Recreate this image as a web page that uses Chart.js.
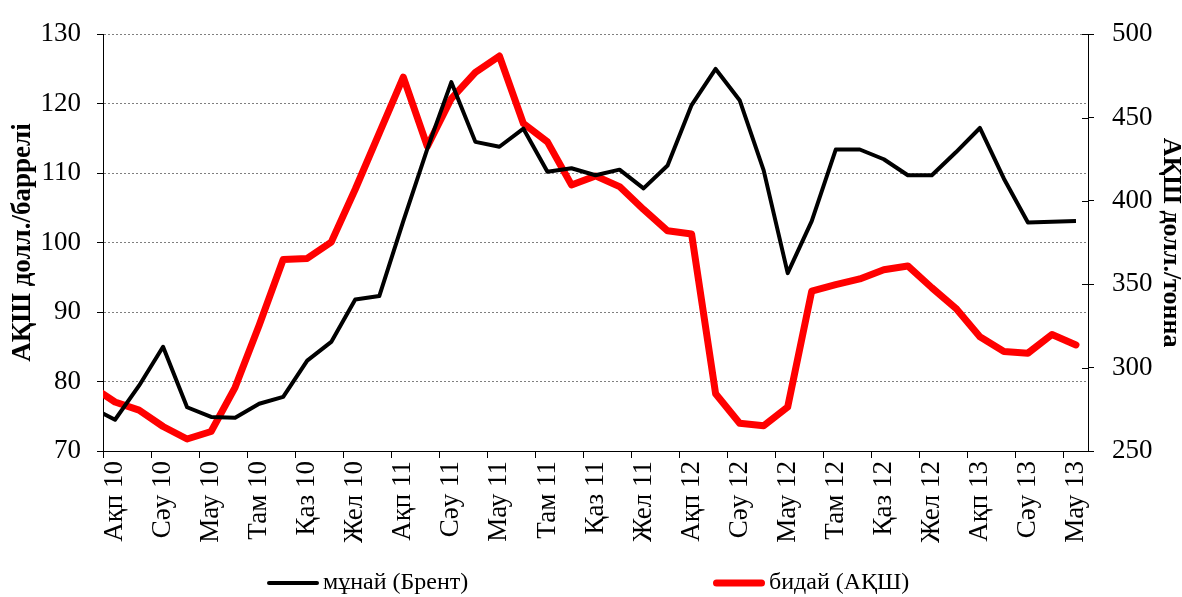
<!DOCTYPE html>
<html lang="kk">
<head>
<meta charset="UTF-8">
<title>Мұнай және бидай бағасы</title>
<script src="https://cdn.jsdelivr.net/npm/chart.js"></script>
<style>
  html, body { margin: 0; padding: 0; background: #fff; }
  #wrap { width: 1182px; height: 597px; position: relative; }
</style>
</head>
<body>
<div id="wrap"><canvas id="chart"></canvas></div>
<script>
// months Jan 2010 .. Jun 2013 (the first one sits half outside the plot)
const months = [
  'Қаң 10','Ақп 10','Нау 10','Сәу 10','Мам 10','Мау 10','Шіл 10','Там 10','Қыр 10','Қаз 10','Қар 10','Жел 10',
  'Қаң 11','Ақп 11','Нау 11','Сәу 11','Мам 11','Мау 11','Шіл 11','Там 11','Қыр 11','Қаз 11','Қар 11','Жел 11',
  'Қаң 12','Ақп 12','Нау 12','Сәу 12','Мам 12','Мау 12','Шіл 12','Там 12','Қыр 12','Қаз 12','Қар 12','Жел 12',
  'Қаң 13','Ақп 13','Нау 13','Сәу 13','Мам 13','Мау 13'
];
const seriesNames = ['мұнай (Брент)', 'бидай (АҚШ)'];

// Brent, USD per barrel (left axis)
const oil = [
  76.3, 74.5, 79.4, 85.0, 76.3, 74.9, 74.8, 76.8, 77.8, 83.0, 85.7, 91.8,
  92.3, 103.1, 113.5, 123.1, 114.5, 113.8, 116.4, 110.2, 110.7, 109.7, 110.5, 107.8,
  111.1, 119.8, 125.0, 120.5, 110.4, 95.6, 103.1, 113.4, 113.4, 112.0, 109.7, 109.7,
  113.0, 116.5, 109.2, 102.9, 103.0, 103.1
];
// US wheat, USD per tonne (right axis)
const wheat = [
  289, 279.4, 274.5, 264.7, 257.2, 261.7, 288.2, 325.4, 364.9, 365.5, 375.3, 407,
  440.7, 474.2, 432.7, 461.4, 477.1, 486.9, 446.4, 435.4, 409.6, 415, 408.6, 394.9,
  382.1, 380.2, 284.3, 266.6, 265.1, 276.4, 345.9, 349.8, 353.2, 358.7, 361, 347.9,
  335.6, 318.5, 309.7, 308.7, 319.9, 313.6
];

const leftTicks = [70, 80, 90, 100, 110, 120, 130];
const rightTicks = [250, 300, 350, 400, 450, 500];

const SERIF = "'Liberation Serif', 'Times New Roman', serif";

// small inner tick marks on the right axis
const crossTicks = {
  id: 'crossTicks',
  afterDraw(chart) {
    const s = chart.scales.y2;
    const ctx = chart.ctx;
    ctx.save();
    ctx.strokeStyle = '#000';
    ctx.lineWidth = 1;
    s.ticks.forEach(t => {
      const y = Math.round(s.getPixelForValue(t.value)) + 0.5;
      ctx.beginPath();
      ctx.moveTo(s.left - 6, y);
      ctx.lineTo(s.left, y);
      ctx.stroke();
    });
    ctx.restore();
  }
};

// legend spread out at the bottom like the original
const bottomLegend = {
  id: 'bottomLegend',
  afterDraw(chart) {
    const ctx = chart.ctx;
    const starts = [267, 713];
    const y = 583;
    ctx.save();
    ctx.font = '24px ' + SERIF;
    ctx.textBaseline = 'middle';
    chart.data.datasets.forEach((ds, i) => {
      const x = starts[i];
      const lw = ds.borderWidth;
      ctx.strokeStyle = ds.borderColor;
      ctx.lineWidth = lw;
      ctx.lineCap = 'round';
      ctx.beginPath();
      ctx.moveTo(x + lw / 2, y);
      ctx.lineTo(x + 52 - lw / 2, y);
      ctx.stroke();
      ctx.fillStyle = '#000';
      ctx.fillText(ds.label, x + 56, y);
    });
    ctx.restore();
  }
};

new Chart(document.getElementById('chart'), {
  type: 'line',
  data: {
    datasets: [
      {
        label: seriesNames[0],
        data: oil.map((v, i) => ({ x: i, y: v })),
        yAxisID: 'y',
        borderColor: '#000000',
        borderWidth: 4,
        pointRadius: 0,
        tension: 0,
        borderJoinStyle: 'round',
        clip: 0
      },
      {
        label: seriesNames[1],
        data: wheat.map((v, i) => ({ x: i, y: v })),
        yAxisID: 'y2',
        borderColor: '#ff0000',
        borderWidth: 7,
        pointRadius: 0,
        tension: 0,
        borderJoinStyle: 'round',
        borderCapStyle: 'round',
        clip: 0
      }
    ]
  },
  options: {
    responsive: true,
    maintainAspectRatio: false,
    animation: false,
    layout: { padding: { top: 26, left: 0, right: 0, bottom: 0 } },
    plugins: {
      legend: { display: false },
      tooltip: { enabled: false }
    },
    scales: {
      x: {
        type: 'linear',
        min: 0.5,
        max: months.length - 0.5,
        afterBuildTicks(scale) {
          const t = [];
          for (let v = 0.5; v <= months.length - 0.5; v += 0.5) t.push({ value: v });
          scale.ticks = t;
        },
        afterFit(scale) { scale.height = 146; },
        grid: {
          drawOnChartArea: false,
          tickLength: 7,
          color: ctx => (ctx.tick && ctx.tick.value % 2 === 0.5) ? '#000' : 'rgba(0,0,0,0)'
        },
        border: { color: '#000', width: 1 },
        ticks: {
          autoSkip: false,
          minRotation: 90,
          maxRotation: 90,
          padding: 3,
          color: '#000',
          font: { family: SERIF, size: 27 },
          callback: v => (Number.isInteger(v) && v % 2 === 1) ? months[v] : ''
        }
      },
      y: {
        position: 'left',
        min: 70,
        max: 130,
        afterBuildTicks(scale) { scale.ticks = leftTicks.map(v => ({ value: v })); },
        afterFit(scale) { scale.width = 103; },
        grid: { color: '#7f7f7f', tickColor: '#000', tickLength: 6, lineWidth: 1 },
        border: { color: '#000', width: 1, dash: [2, 2] },
        ticks: { padding: 16, color: '#000', font: { family: SERIF, size: 27 } },
        title: {
          display: true,
          text: 'АҚШ долл./баррелі',
          color: '#000',
          font: { family: SERIF, size: 27, weight: 'bold', lineHeight: 1.1 },
          padding: { top: 8, bottom: 0 }
        }
      },
      y2: {
        position: 'right',
        min: 250,
        max: 500,
        afterBuildTicks(scale) { scale.ticks = rightTicks.map(v => ({ value: v })); },
        afterFit(scale) { scale.width = 94; },
        grid: { drawOnChartArea: false, tickColor: '#000', tickLength: 6 },
        border: { color: '#000', width: 1 },
        ticks: { padding: 18, color: '#000', font: { family: SERIF, size: 27 } },
        title: {
          display: true,
          text: 'АҚШ долл./тонна',
          color: '#000',
          font: { family: SERIF, size: 26, weight: 'bold', lineHeight: 0.85 },
          padding: { top: 0, bottom: 0 }
        }
      }
    }
  },
  plugins: [crossTicks, bottomLegend]
});
</script>
</body>
</html>
